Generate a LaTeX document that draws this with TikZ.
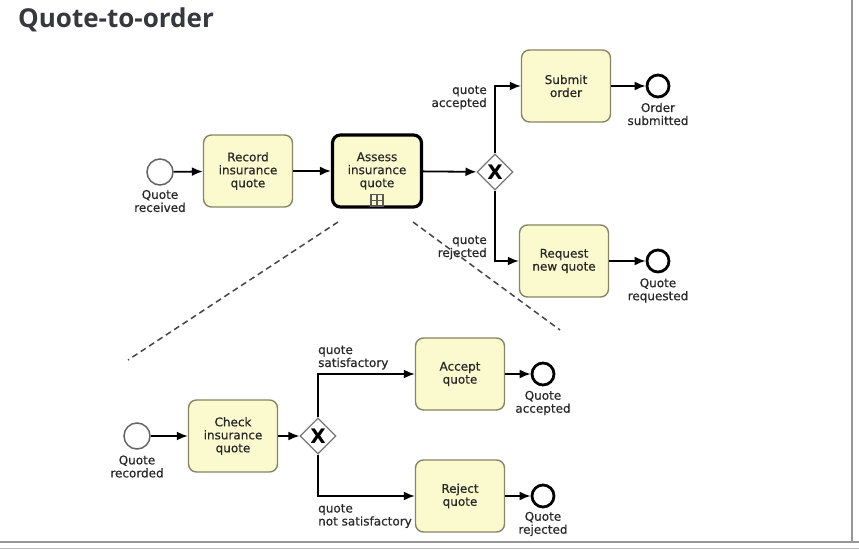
\documentclass[tikz,border=0pt]{standalone}
\usepackage{fontspec}
\setmainfont{DejaVu Sans}[FakeBold=0.6]
\newfontfamily\titlefam{Open Sans}
\newfontfamily\gwfam{DejaVu Sans}
\usetikzlibrary{arrows.meta,shapes.geometric}
\definecolor{taskfill}{RGB}{251,249,206}
\definecolor{taskline}{RGB}{135,133,100}
\definecolor{txt}{RGB}{40,40,40}
\definecolor{titlecol}{RGB}{55,55,62}
\definecolor{startline}{RGB}{100,100,100}
\definecolor{gwline}{RGB}{120,120,120}
\definecolor{mkline}{RGB}{90,90,90}
\definecolor{dashcol}{RGB}{70,70,70}
\definecolor{framecol}{RGB}{150,150,150}
\newcommand{\tfont}{\fontsize{12}{13}\selectfont}
\begin{document}
\begin{tikzpicture}[x=1pt,y=-1pt,
  task/.style={rectangle, rounded corners=8pt, draw=taskline, line width=1.4pt, fill=taskfill,
    minimum width=89pt, minimum height=72pt, align=center, font=\tfont, text=txt, inner sep=2pt},
  subproc/.style={task, draw=black, line width=3.2pt},
  startev/.style={circle, draw=startline, line width=1.5pt, fill=white, minimum size=26pt, inner sep=0pt},
  endev/.style={circle, draw=black, line width=2.8pt, fill=white, minimum size=22pt, inner sep=0pt},
  gateway/.style={diamond, draw=gwline, line width=1.3pt, fill=white, minimum width=36pt,
    minimum height=36pt, inner sep=0pt, font=\gwfam\fontsize{20}{20}\selectfont\bfseries},
  flow/.style={line width=1.8pt, -{Latex[length=11pt,width=9pt]}},
  lbl/.style={font=\tfont, text=txt, inner sep=0pt, align=center},
  dashline/.style={dashcol, line width=1.5pt, dash pattern=on 6pt off 4pt}]
\useasboundingbox (0,0) rectangle (859,553);
\fill[white] (0,0) rectangle (859,553);

% frame
\draw[framecol, line width=1.5pt] (852,0) -- (852,542);
\draw[framecol, line width=1.5pt] (0,542) -- (859,542);
\draw[framecol!70, line width=1pt] (0,548) -- (859,548);

% title
\node[anchor=base west, inner sep=0pt, text=titlecol, font=\titlefam\bfseries\fontsize{26}{28}\selectfont] (title) at (18,28) {Quote-to-order};

% top process
\node[startev] (qr) at (160,172) {};
\node[task] (rec) at (248,171) {Record\\insurance\\quote};
\node[subproc] (ass) at (377,171) {Assess\\insurance\\quote};
\node[draw=mkline, line width=1.1pt, minimum size=12pt, inner sep=0pt, anchor=south] (mk) at ([yshift=1.6pt]ass.south) {};
\draw[mkline, line width=1.1pt] ([yshift=-1.5pt]mk.north) -- ([yshift=1.5pt]mk.south) ([xshift=1.5pt]mk.west) -- ([xshift=-1.5pt]mk.east);
\node[gateway] (gw1) at (495,172) {X};
\node[task] (sub) at (566,86) {Submit\\order};
\node[endev] (os) at (658,86) {};
\node[task] (req) at (564,261) {Request\\new quote};
\node[endev] (qreq) at (658,261) {};

\node[lbl] (lqr) at (160,201) {Quote\\received};
\node[lbl] (los) at (658,114) {Order\\submitted};
\node[lbl] (lqreq) at (658,290.5) {Quote\\requested};
\node[lbl, anchor=east, align=right] (lacc) at (487,97.5) {quote\\accepted};
\node[lbl, anchor=east, align=right] (lrej) at (487,247.5) {quote\\rejected};

\draw[flow] (qr) -- (rec);
\draw[flow] (rec) -- (ass);
\draw[flow] (ass) -- (gw1);
\draw[flow] (gw1.north) |- (sub.west);
\draw[flow] (gw1.south) |- (req.west);
\draw[flow] (sub) -- (os);
\draw[flow] (req) -- (qreq);

% zoom lines
\coordinate (d1a) at (338,222);
\coordinate (d1b) at (128,360);
\coordinate (d2a) at (413,222);
\coordinate (d2b) at (560,330);
\draw[dashline] (d1a) -- (d1b);
\draw[dashline] (d2a) -- (d2b);

% sub process
\node[startev] (qrec) at (137,436) {};
\node[task] (chk) at (233,436) {Check\\insurance\\quote};
\node[gateway] (gw2) at (318,436) {X};
\node[task] (acc) at (460,374) {Accept\\quote};
\node[endev] (qa) at (543,374) {};
\node[task] (rej) at (460,496) {Reject\\quote};
\node[endev] (qrj) at (543,496) {};

\node[lbl] (lqrec) at (137,466.5) {Quote\\recorded};
\node[lbl] (lqa) at (543,403) {Quote\\accepted};
\node[lbl] (lqrj) at (543,524) {Quote\\rejected};
\node[lbl, anchor=west, align=left] (lsat) at (318,357.5) {quote\\satisfactory};
\node[lbl, anchor=west, align=left] (lnsat) at (318,516) {quote\\not satisfactory};

\draw[flow] (qrec) -- (chk);
\draw[flow] (chk) -- (gw2);
\draw[flow] (gw2.north) |- (acc.west);
\draw[flow] (gw2.south) |- (rej.west);
\draw[flow] (acc) -- (qa);
\draw[flow] (rej) -- (qrj);
\end{tikzpicture}
\end{document}
